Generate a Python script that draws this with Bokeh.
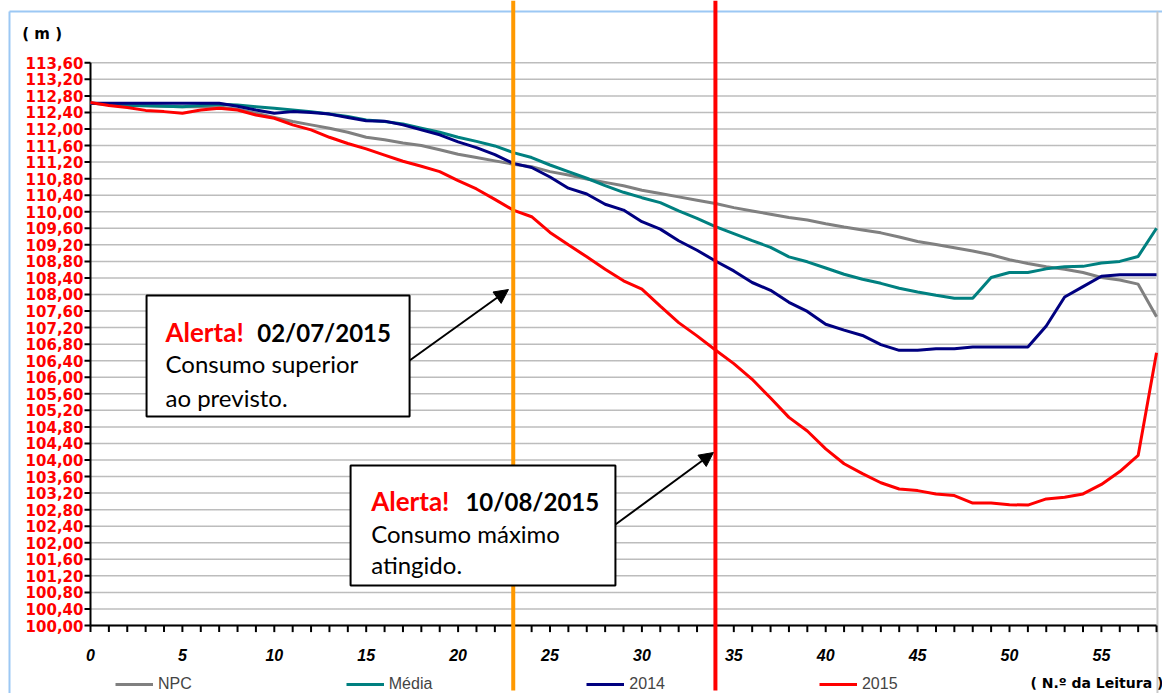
from bokeh.plotting import figure
from bokeh.models import Range1d, Arrow, NormalHead, Legend, LegendItem
from bokeh.core.properties import value
from bokeh.embed import file_html
from bokeh.resources import INLINE

# ---------------- data ----------------
leitura = list(range(59))
npc = [112.62, 112.60, 112.58, 112.56, 112.55, 112.54, 112.54, 112.53, 112.48, 112.38,
       112.28, 112.18, 112.10, 112.02, 111.92, 111.80, 111.74, 111.66, 111.60, 111.50,
       111.39, 111.31, 111.23, 111.15, 111.09, 110.97, 110.89, 110.79, 110.71, 110.63,
       110.52, 110.44, 110.36, 110.28, 110.20, 110.10, 110.02, 109.94, 109.86, 109.80,
       109.71, 109.63, 109.56, 109.49, 109.39, 109.28, 109.21, 109.13, 109.05, 108.96,
       108.84, 108.75, 108.67, 108.61, 108.53, 108.41, 108.35, 108.25, 107.46]
media = [112.62, 112.60, 112.57, 112.56, 112.55, 112.54, 112.57, 112.60, 112.58, 112.54,
         112.50, 112.46, 112.42, 112.36, 112.30, 112.22, 112.18, 112.12, 112.02, 111.92,
         111.80, 111.70, 111.59, 111.43, 111.31, 111.13, 110.97, 110.81, 110.63, 110.47,
         110.34, 110.22, 110.02, 109.84, 109.64, 109.47, 109.30, 109.14, 108.91, 108.79,
         108.64, 108.49, 108.37, 108.27, 108.15, 108.06, 107.98, 107.91, 107.91, 108.41,
         108.53, 108.53, 108.62, 108.67, 108.68, 108.76, 108.80, 108.92, 109.60]
y2014 = [112.62, 112.62, 112.62, 112.62, 112.62, 112.62, 112.62, 112.62, 112.55, 112.46,
         112.38, 112.42, 112.40, 112.36, 112.28, 112.20, 112.19, 112.10, 111.98, 111.86,
         111.69, 111.55, 111.38, 111.17, 111.07, 110.84, 110.57, 110.43, 110.18, 110.04,
         109.76, 109.58, 109.30, 109.07, 108.81, 108.57, 108.29, 108.10, 107.81, 107.59,
         107.28, 107.14, 107.01, 106.79, 106.65, 106.65, 106.69, 106.69, 106.73, 106.73,
         106.73, 106.73, 107.24, 107.94, 108.19, 108.44, 108.48, 108.48, 108.48]
y2015 = [112.64, 112.57, 112.52, 112.45, 112.42, 112.38, 112.46, 112.50, 112.46, 112.34,
         112.26, 112.10, 111.98, 111.80, 111.65, 111.52, 111.37, 111.22, 111.10, 110.97,
         110.75, 110.55, 110.30, 110.04, 109.88, 109.50, 109.20, 108.91, 108.61, 108.33,
         108.13, 107.72, 107.32, 107.00, 106.66, 106.33, 105.95, 105.50, 105.03, 104.70,
         104.27, 103.91, 103.67, 103.45, 103.30, 103.26, 103.18, 103.14, 102.96, 102.96,
         102.92, 102.91, 103.06, 103.10, 103.18, 103.41, 103.72, 104.11, 106.59]

series_names = ["NPC", "Média", "2014", "2015"]
series_colors = ["#808080", "#008080", "#000080", "#ff0000"]
y_ticks = [round(100 + 0.4 * k, 2) for k in range(35)]
y_tick_labels = [f"{v:.2f}".replace(".", ",") for v in y_ticks]
x_label_ticks = list(range(0, 56, 5))
x_tick_labels = [str(v) for v in x_label_ticks]

alert_x = [23, 34]
alert_line_colors = ["#ff9900", "#ff0000"]
alert_dates = ["02/07/2015", "10/08/2015"]
alert_line2 = ["Consumo superior", "Consumo máximo"]
alert_line3 = ["ao previsto.", "atingido."]

# ---------------- layout constants (data units of the full-canvas frame) ----------------
X_MIN, X_MAX = 0, 58
X_LO, X_HI = -4.8966, 58.3243
Y_LO, Y_HI = 98.3565, 115.1057
Y_AX_MIN, Y_AX_MAX = 100, 113.6
TICK_LEN_X = 0.3264     # 6 px
TICK_LEN_Y = 0.16       # ~6.5 px
BORDER_X, BORDER_Y = -4.407, 114.84

p = figure(width=1162, height=693, output_backend="svg", toolbar_location=None,
           title=None, x_range=Range1d(X_LO, X_HI), y_range=Range1d(Y_LO, Y_HI),
           x_axis_location=None, y_axis_location=None,
           min_border_left=0, min_border_right=0, min_border_top=0, min_border_bottom=0)
p.outline_line_color = None
p.background_fill_color = "white"
p.border_fill_color = "white"
p.xgrid.visible = False
p.ygrid.visible = False

# light-blue chart border (left and top)
p.segment(x0=[BORDER_X, BORDER_X], y0=[BORDER_Y, BORDER_Y], x1=[BORDER_X, X_HI], y1=[Y_LO, BORDER_Y],
          line_color="#9cc8f4", line_width=2)

# horizontal grid
p.segment(x0=[X_MIN] * len(y_ticks), y0=y_ticks, x1=[X_MAX] * len(y_ticks), y1=y_ticks,
          line_color="#7a7a7a", line_dash="1 1", line_width=1.5)

# right border of plot area
p.segment(x0=[58.05], y0=[Y_LO], x1=[58.05], y1=[BORDER_Y], line_color="#c8c8c8", line_width=2)

# y axis
p.segment(x0=[X_MIN], y0=[Y_AX_MIN], x1=[X_MIN], y1=[Y_AX_MAX], line_color="black", line_width=2)
p.segment(x0=[X_MIN] * len(y_ticks), y0=y_ticks, x1=[X_MIN - TICK_LEN_X] * len(y_ticks), y1=y_ticks,
          line_color="black", line_width=2)
p.text(x=[X_MIN - 0.381] * len(y_ticks), y=y_ticks, text=y_tick_labels, text_align="right",
       text_baseline="middle", text_color="#ff0000", text_font=value("DejaVu Sans"),
       text_font_style="bold", text_font_size="15px")

# x axis
p.segment(x0=[X_MIN], y0=[Y_AX_MIN], x1=[X_MAX], y1=[Y_AX_MIN], line_color="black", line_width=2)
p.segment(x0=leitura, y0=[Y_AX_MIN] * len(leitura), x1=leitura,
          y1=[Y_AX_MIN - TICK_LEN_Y] * len(leitura), line_color="black", line_width=2)
p.text(x=x_label_ticks, y=[99.275] * len(x_label_ticks), text=x_tick_labels, text_align="center",
       text_baseline="alphabetic", text_color="black", text_font=value("Liberation Sans"),
       text_font_style="bold italic", text_font_size="16px")

# data lines
renderers = []
for name, ys, col in zip(series_names, [npc, media, y2014, y2015], series_colors):
    r = p.line(leitura, ys, line_color=col, line_width=3)
    renderers.append(r)

# alert vertical lines
p.segment(x0=alert_x, y0=[98.43] * 2, x1=alert_x, y1=[Y_HI] * 2,
          line_color=alert_line_colors, line_width=4)

# alert boxes
box_left = [3.05, 14.15]
box_right = [17.36, 28.56]
box_top = [107.976, 103.867]
box_bottom = [105.05, 100.967]
p.quad(left=box_left, right=box_right, top=box_top, bottom=box_bottom,
       fill_color="white", line_color="black", line_width=2)

txt_x1 = [4.08, 15.27]
txt_xd = [9.07, 20.40]
txt_y = [[107.089, 106.332, 105.518], [103.004, 102.23, 101.474]]
for i in range(2):
    p.text(x=[txt_x1[i]], y=[txt_y[i][0]], text=["Alerta!"], text_color="#ff0000",
           text_font=value("Lato"), text_font_style="bold", text_font_size="26px",
           text_baseline="alphabetic")
    p.text(x=[txt_xd[i]], y=[txt_y[i][0]], text=[alert_dates[i]], text_color="black",
           text_font=value("Lato"), text_font_style="bold", text_font_size="24px",
           text_baseline="alphabetic")
    p.text(x=[txt_x1[i], txt_x1[i]], y=[txt_y[i][1], txt_y[i][2]],
           text=[alert_line2[i], alert_line3[i]], text_color="black",
           text_font=value("Lato"), text_font_size="24px", text_baseline="alphabetic")

# arrows
arrows = [((17.36, 106.405), (22.74, 108.12)), ((28.56, 102.44), (33.89, 104.18))]
for (xs, ys), (xe, ye) in arrows:
    p.add_layout(Arrow(end=NormalHead(size=14, fill_color="black", line_color="black"),
                       x_start=xs, y_start=ys, x_end=xe, y_end=ye,
                       line_color="black", line_width=2))

# unit labels
p.text(x=[-3.716], y=[114.301], text=["( m )"], text_font=value("DejaVu Sans"),
       text_font_style="bold", text_font_size="15px", text_baseline="alphabetic",
       text_color="black")
p.text(x=[51.14], y=[98.622], text=["( N.º da Leitura )"], text_font=value("DejaVu Sans"),
       text_font_style="bold", text_font_size="14px", text_baseline="alphabetic",
       text_color="black")

# legend
legend = Legend(items=[LegendItem(label=n, renderers=[r]) for n, r in zip(series_names, renderers)],
                orientation="horizontal", location=(115, 0), spacing=154, padding=0, margin=0,
                glyph_width=38, glyph_height=14, label_height=14, label_standoff=5,
                label_text_font="Liberation Sans", label_text_font_size="16px",
                background_fill_alpha=0, border_line_color=None)
p.add_layout(legend)

open("out.html", "w").write(file_html(p, INLINE))
